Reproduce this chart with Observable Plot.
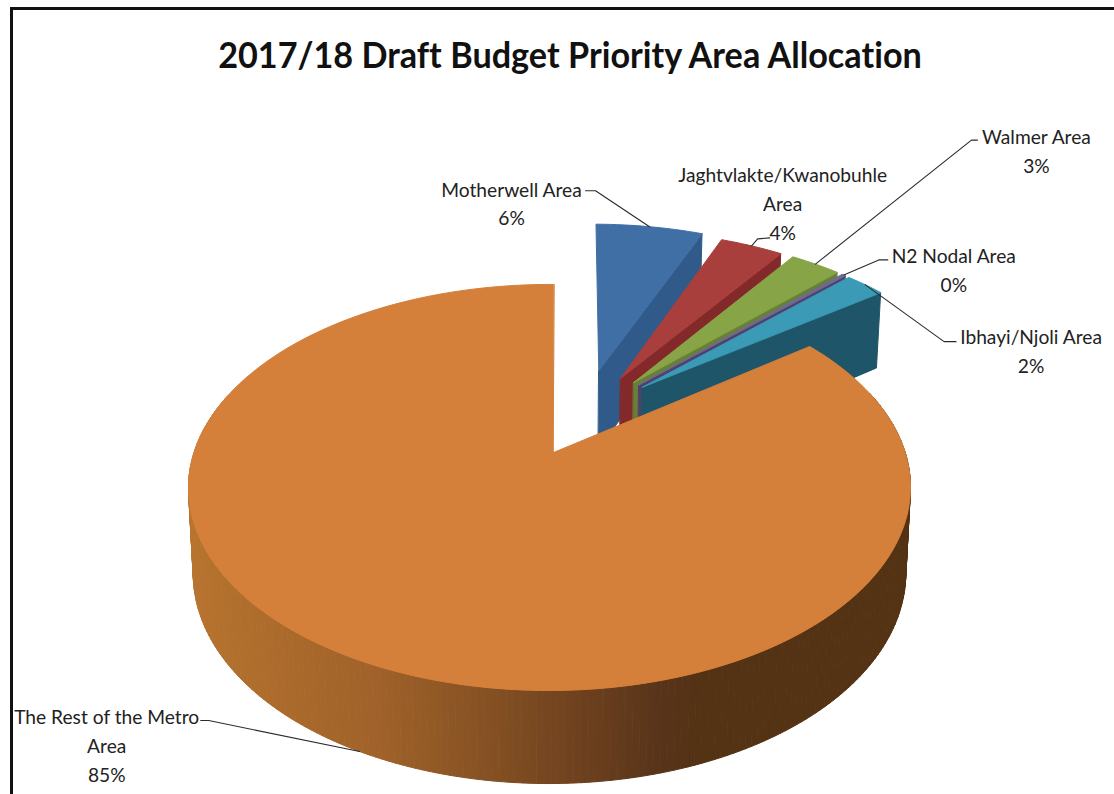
<!DOCTYPE html>
<html>
<head>
<meta charset="utf-8">
<script src="https://cdn.jsdelivr.net/npm/d3@7"></script>
<script src="https://cdn.jsdelivr.net/npm/@observablehq/plot@0.6"></script>
<style>
  html, body { margin: 0; padding: 0; background: #fff; }
  #frame { position: absolute; left: 10px; top: 7px; width: 1104px; height: 787px;
           box-sizing: border-box; border-top: 3px solid #111; border-left: 3px solid #111; overflow: hidden; }
  #title { position: absolute; left: -3px; top: 19px; width: 1120px; text-align: center;
           font: 700 37px Lato, sans-serif; color: #111; line-height: 50px; white-space: nowrap;
           transform: scaleX(0.925); font-variant-ligatures: none; }
  #chart { position: absolute; left: -13px; top: 80px; width: 1114px; height: 704px; }
</style>
</head>
<body>
<div id="frame"><div id="title">2017/18 Draft Budget Priority Area Allocation</div><div id="chart"></div></div>
<script>
// ---- data (percent of the budget) ----
const categories = ["Motherwell Area", "Jaghtvlakte/Kwanobuhle\nArea", "Walmer Area", "N2 Nodal Area", "Ibhayi/Njoli Area", "The Rest of the Metro\nArea"];
const shares = [6.0, 3.5, 2.8, 0.2, 2.2, 85.3];

// ---- appearance ----
const topColors  = ["#406fa6", "#a83f3c", "#87a546", "#6f6a94", "#3b9ab6", "#d5803a"];
const wallColors = ["#2f5a8a", "#84292a", "#677f36", "#4f406c", "#1f5568", "#a0622a"];
const restWallStops = [-1, -0.7, -0.42, -0.2, 0, 0.25, 0.35, 1];
const restWallRamp = ["#b97530", "#ad6c2c", "#a0622a", "#8a5424", "#744520", "#58341a", "#543214", "#543214"];

// how far each slice is pulled out of the pie, on the pie's plane (radius = 1)
const startAngle = 0.7;
const explodeDirection = [17, 26.6, 32.4, 35, 37, 270];
const explodeDistance  = [0.469, 0.45, 0.448, 0.445, 0.44, 0.011];

// label placement, as pixel offsets from the slice's rim point
const labelOffset = [[-138, -25], [31, -44], [221, -115], [110, -7], [166, 65], [-253, -8]];
const elbowOffset = [[-54, -36], [6, -7], [156, -124], [35, -15], [79, 57], [-151, -31]];
const tailOffset  = [[-64, -36], [18, -8], [162, -124], [44, -15], [91, 57], [-159, -31]];

// ---- view of the tilted pie ----
const W = 1114, H = 704, topInset = 90;
const tilt = 0.1724, halfW = 355.6, halfH = 197, depth = 84, depthTilt = 9, depthShrink = 0.013;
const originX = 553, originY = 452 - topInset;
const xDomain = [-originX / halfW, (W - originX) / halfW];
const yDomain = [originY / halfH, (originY - H) / halfH];

const rad = d => d * Math.PI / 180;
function project(u, v, z = 0) {
  const w = 1 + tilt * v;
  const sx = (u / w) * (1 - depthShrink * z);
  const sy = v / w - z * (depth - depthTilt * v) / halfH;
  return {x: sx, y: sy};
}
const pxX = d => d / halfW, pxY = d => -d / halfH;

const total = d3.sum(shares);
let running = startAngle;
const slices = categories.map((name, i) => {
  const a0 = running; running += shares[i] / total * 360; const a1 = running;
  const ox = explodeDistance[i] * Math.sin(rad(explodeDirection[i]));
  const oy = explodeDistance[i] * Math.cos(rad(explodeDirection[i]));
  const isRest = i === categories.length - 1;
  return {i, name, a0, a1, ox, oy, ax: isRest ? 0 : ox, ay: isRest ? 0 : oy, isRest};
});
const rim = (s, a) => [s.ox + Math.sin(rad(a)), s.oy + Math.cos(rad(a))];

// polygons in drawing order: walls under tops, back slices first
const polys = [];
let id = 0;
function addPoly(points, color) {
  const pid = id++;
  for (const [u, v, z] of points) polys.push({...project(u, v, z), pid, color});
}
const rampScale = d3.scaleLinear().domain(restWallStops).range(restWallRamp).interpolate(d3.interpolateRgb).clamp(true);

for (const s of slices) {
  if (!s.isRest) {
    const [u, v] = rim(s, s.a1);
    addPoly([[s.ax, s.ay, 0], [u, v, 0], [u, v, 1], [s.ax, s.ay, 1]], wallColors[s.i]);
  } else {
    const step = 1;
    for (let a = s.a0; a < s.a1; a += step) {
      const [u0, v0] = rim(s, a), [u1, v1] = rim(s, Math.min(a + step, s.a1));
      if (v0 > 0.3 && v1 > 0.3) continue; // hidden behind the top surface
      addPoly([[u0, v0, 0], [u1, v1, 0], [u1, v1, 1], [u0, v0, 1]], rampScale((u0 + u1) / 2));
    }
  }
  const outline = [[s.ax, s.ay, 0]];
  const n = Math.max(2, Math.ceil((s.a1 - s.a0) / 1.5));
  for (let k = 0; k <= n; k++) outline.push([...rim(s, s.a0 + (s.a1 - s.a0) * k / n), 0]);
  addPoly(outline, topColors[s.i]);
}

// labels and leader lines
const labels = [], leaders = [];
for (const s of slices) {
  const [u, v] = rim(s, (s.a0 + s.a1) / 2);
  const p = project(u, v, s.isRest ? 1 : 0);
  const off = (o) => ({x: p.x + pxX(o[0]), y: p.y + pxY(o[1])});
  labels.push({...off(labelOffset[s.i]), text: `${s.name}\n${Math.round(shares[s.i])}%`});
  for (const q of [p, off(elbowOffset[s.i]), off(tailOffset[s.i])]) leaders.push({...q, i: s.i});
}

const chart = Plot.plot({
  width: W, height: H, margin: 0,
  style: {background: "none", maxWidth: "none"},
  x: {domain: xDomain, range: [0, W], axis: null},
  y: {domain: yDomain, range: [0, H], axis: null},
  color: {type: "identity"},
  marks: [
    Plot.line(polys, {x: "x", y: "y", z: "pid", fill: "color", stroke: "color", strokeWidth: 1, curve: "linear-closed"}),
    Plot.line(leaders, {x: "x", y: "y", z: "i", stroke: "#2b2b2b", strokeWidth: 1.1}),
    Plot.text(labels, {x: "x", y: "y", text: "text", fontFamily: "Lato, sans-serif", fontSize: 19.2, lineHeight: 1.5, fill: "#222", textAnchor: "middle"})
  ]
});
document.getElementById("chart").appendChild(chart);
</script>
</body>
</html>
